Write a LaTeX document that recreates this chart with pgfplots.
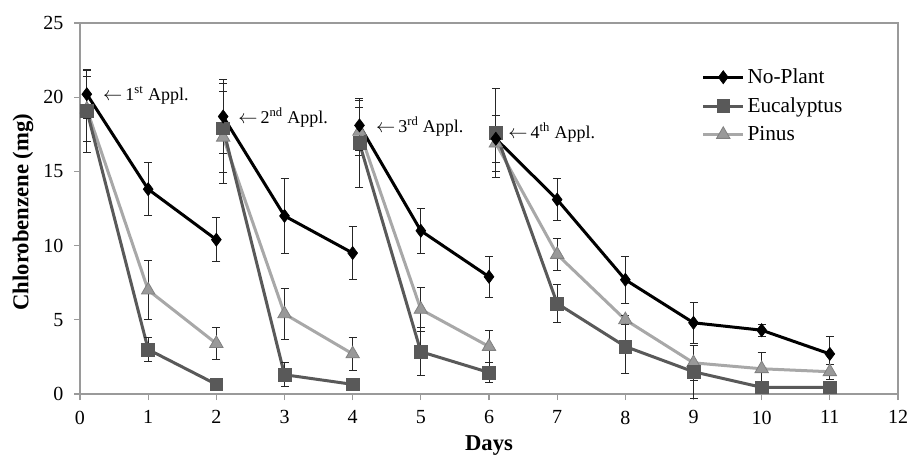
\documentclass[border=0pt]{standalone}
\usepackage{pgfplots}
\pgfplotsset{compat=1.18}
\usepackage{fontspec}
\setmainfont{Liberation Serif}
\definecolor{euccol}{HTML}{595959}
\definecolor{pincol}{HTML}{A8A8A8}
\definecolor{pinfill}{HTML}{999999}
\definecolor{axgray}{HTML}{9A9A9A}
\pgfplotsset{
  npst/.style={black, line width=2.25pt, mark=diamond*, mark size=4.9pt, mark options={solid, fill=black, draw=black, line width=0.5pt}},
  eust/.style={euccol, line width=2.25pt, mark=square*, mark size=4.8pt, mark options={solid, fill=euccol, draw=euccol, line width=0.5pt}},
  pist/.style={pincol, line width=2.25pt, mark=triangle*, mark size=5.8pt, mark options={solid, fill=pinfill, draw=gray, line width=0.6pt}},
  errs/.style={/pgfplots/error bars/y dir=both, /pgfplots/error bars/y explicit,
    /pgfplots/error bars/error bar style={black!85, line width=0.7pt},
    /pgfplots/error bars/error mark options={rotate=90, mark size=3pt, black!85, line width=0.7pt}},
}
\newcommand{\labfont}{\fontsize{17}{19}\selectfont\bfseries}
\begin{document}
\begin{tikzpicture}
\begin{axis}[
  name=ax,
  scale only axis,
  width=613.5pt, height=278.25pt,
  xmin=0, xmax=12, ymin=0, ymax=25,
  xtick={0,1,...,12}, ytick={0,5,...,25},
  xtick pos=left, ytick pos=left,
  tick align=outside,
  major tick length=4.5pt,
  tick style={axgray, line width=0.8pt},
  axis line style={draw=axgray, line width=0.8pt},
  clip=false,
  /pgf/number format/assume math mode=true,
  tick label style={font=\fontsize{15}{17}\selectfont},
  x tick label style={yshift=-4.5pt},
  y tick label style={xshift=-4.5pt},
  legend image code/.code={\draw[mark repeat=2, mark phase=2] plot coordinates {(0cm,0cm) (0.53cm,0cm) (1.06cm,0cm)};},
  legend style={draw=none, fill=none, at={(rel axis cs:0.758,0.888)}, anchor=north west,
    font=\fontsize{16}{19}\selectfont, row sep=5pt, inner sep=1pt},
  legend cell align=left,
]
\addlegendimage{npst}\addlegendentry{No-Plant}
\addlegendimage{eust}\addlegendentry{Eucalyptus}
\addlegendimage{pist}\addlegendentry{Pinus}

% Pinus
\addplot[forget plot, pist, errs] coordinates {(0.1,19.2) +- (0,2.2) (1,7.0) +- (0,2.0) (2,3.4) +- (0,1.1)};
\addplot[forget plot, pist, errs] coordinates {(2.1,17.3) +- (0,3.1) (3,5.4) +- (0,1.7) (4,2.7) +- (0,1.1)};
\addplot[forget plot, pist, errs] coordinates {(4.1,17.7) +- (0,1.6) (5,5.7) +- (0,1.5) (6,3.2) +- (0,1.1)};
\addplot[forget plot, pist, errs] coordinates {(6.1,16.9) +- (0,1.9) (7,9.4) +- (0,1.1) (8,5.0) +- (0,0.3) (9,2.1) +- (0,1.2) (10,1.7) +- (0,1.1) (11,1.5) +- (0,0.5)};
% Eucalyptus
\addplot[forget plot, eust, errs] coordinates {(0.1,19.1) +- (0,2.8) (1,3.0) +- (0,0.8) (2,0.65) +- (0,0.1)};
\addplot[forget plot, eust, errs] coordinates {(2.1,17.9) +- (0,3.0) (3,1.3) +- (0,0.8) (4,0.65) +- (0,0.4)};
\addplot[forget plot, eust, errs] coordinates {(4.1,16.9) +- (0,3.0) (5,2.85) +- (0,1.6) (6,1.45) +- (0,0.7)};
\addplot[forget plot, eust, errs] coordinates {(6.1,17.6) +- (0,3.0) (7,6.1) +- (0,1.3) (8,3.2) +- (0,1.8) (9,1.5) +- (0,1.8) (10,0.45) +- (0,0.1) (11,0.45) +- (0,0.2)};
% No-Plant
\addplot[forget plot, npst, errs] coordinates {(0.1,20.2) +- (0,1.6) (1,13.8) +- (0,1.8) (2,10.4) +- (0,1.5)};
\addplot[forget plot, npst, errs] coordinates {(2.1,18.7) +- (0,2.5) (3,12.0) +- (0,2.5) (4,9.5) +- (0,1.8)};
\addplot[forget plot, npst, errs] coordinates {(4.1,18.1) +- (0,1.7) (5,11.0) +- (0,1.5) (6,7.9) +- (0,1.4)};
\addplot[forget plot, npst, errs] coordinates {(6.1,17.2) +- (0,1.6) (7,13.1) +- (0,1.4) (8,7.7) +- (0,1.6) (9,4.8) +- (0,1.4) (10,4.3) +- (0,0.4) (11,2.7) +- (0,1.2)};

\node[anchor=west, inner sep=0pt, font=\fontsize{13.5}{15}\selectfont] at (axis cs:0.337,20.15) {$\leftarrow$\,1\textsuperscript{st} Appl.};
\node[anchor=west, inner sep=0pt, font=\fontsize{13.5}{15}\selectfont] at (axis cs:2.32,18.6) {$\leftarrow$\,2\textsuperscript{nd} Appl.};
\node[anchor=west, inner sep=0pt, font=\fontsize{13.5}{15}\selectfont] at (axis cs:4.34,18.0) {$\leftarrow$\,3\textsuperscript{rd} Appl.};
\node[anchor=west, inner sep=0pt, font=\fontsize{13.5}{15}\selectfont] at (axis cs:6.28,17.65) {$\leftarrow$\,4\textsuperscript{th} Appl.};
\node[anchor=center, rotate=90, inner sep=0pt, font=\labfont] at (rel axis cs:-0.0697,0.49) {Chlorobenzene (mg)};
\node[anchor=base, inner sep=0pt, font=\labfont] at (rel axis cs:0.5,-0.1536) {Days};
\end{axis}
\pgfresetboundingbox
\path ([shift={(-60pt,-47.25pt)}]ax.south west) rectangle ([shift={(10.5pt,17.25pt)}]ax.north east);
\end{tikzpicture}
\end{document}
